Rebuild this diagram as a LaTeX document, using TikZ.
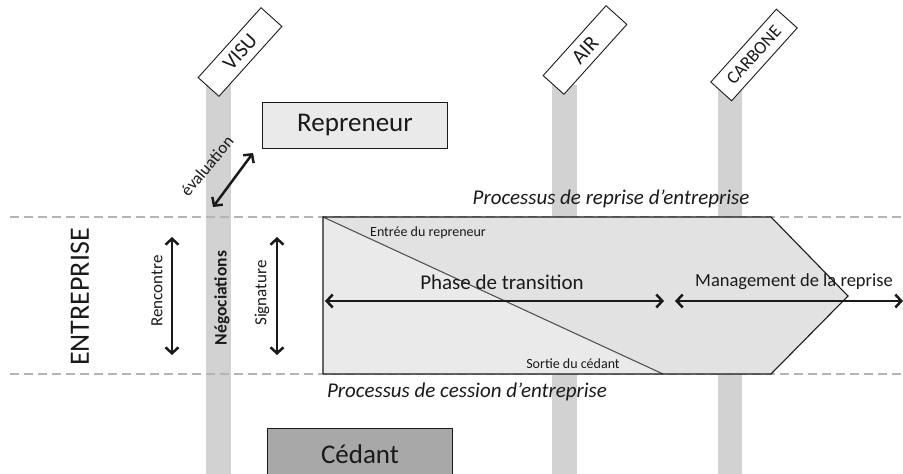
\documentclass[tikz,border=0pt]{standalone}
\usepackage{fontspec}
\setmainfont{Carlito}
\usepackage{xcolor}
\usetikzlibrary{calc,arrows.meta}
\definecolor{ink}{HTML}{1A1A1A}
\definecolor{bar}{HTML}{D2D2D2}
\definecolor{dash}{HTML}{B4B4B4}
\definecolor{dots}{HTML}{E2E2E2}
\definecolor{pale}{HTML}{EAEAEA}
\definecolor{dark}{HTML}{A8A8A8}
\tikzset{
  fs/.style={font=\fontsize{#1}{#1}\selectfont},
  pillar/.style={fill=bar, draw=none},
  tag/.style={draw=ink, line width=0.9pt, fill=white, rotate=48, minimum width=94pt, minimum height=28pt, inner sep=0pt, text=ink},
  border/.style={draw=dash, line width=2.6pt, dash pattern=on 9pt off 5pt},
  dbl/.style={{Straight Barb[length=6pt,width=13pt]}-{Straight Barb[length=6pt,width=13pt]}, line width=2.5pt, draw=ink},
  actor/.style={draw=ink, line width=0.9pt, minimum width=185pt, minimum height=46pt, inner sep=0pt, text=ink},
  every node/.style={text=ink}
}
\begin{document}
\begin{tikzpicture}[x=1pt,y=-1pt]
  \clip (0,0) rectangle (903,474);
  \fill[white] (0,0) rectangle (903,474);

  % colonnes
  \fill[pillar] (206,80) rectangle (231,474);
  \fill[pillar] (552,85) rectangle (577,474);
  \fill[pillar] (718,90) rectangle (742,474);
  \node[tag, fs=21] (visu) at (240,52) {VISU};
  \node[tag, fs=21] (air) at (585,50) {AIR};
  \node[tag, fs=18, minimum width=98pt] (carbone) at (754,55) {CARBONE};

  % limites de l'entreprise
  \draw[border] (10,217) -- (903,217);
  \draw[border] (10,374) -- (903,374);

  % processus
  \coordinate (A) at (323,217);
  \coordinate (B) at (771,217);
  \coordinate (T) at (848,296);
  \coordinate (C) at (771,374);
  \coordinate (D) at (323,374);
  \coordinate (E) at (663,374);
  \fill[dots] (A)--(B)--(T)--(C)--(D)--cycle;
  \fill[pale] (A)--(E)--(D)--cycle;
  \draw[draw=ink!75, line width=1.1pt] (A)--(E);
  \draw[draw=ink, line width=1.1pt, line join=miter] (D)--(A)--(B)--(T)--(C)--(D);

  \node[fs=21] (reprise) at (611,199) {\itshape Processus de reprise d’entreprise};
  \node[fs=21] (cession) at (467,392) {\itshape Processus de cession d’entreprise};
  \node[fs=14] (entree) at (428,233) {Entrée du repreneur};
  \node[fs=14] (sortie) at (573,364) {Sortie du cédant};

  \coordinate (p1) at (325,301);
  \coordinate (p2) at (664,301);
  \coordinate (m1) at (675,301);
  \coordinate (m2) at (903,301);
  \draw[dbl] (p1) -- (p2);
  \draw[dbl] (m1) -- (m2);
  \node[fs=21] (phase) at (502,282) {Phase de transition};
  \node[fs=18.5] (mgt) at (794,282) {Management de la reprise};

  % acteurs
  \node[actor, fill=pale, fs=27] (repreneur) at (355,125) {Repreneur};
  \node[actor, fill=dark, fs=27, minimum height=52pt] (cedant) at (360,454) {Cédant};

  % etapes
  \node[fs=28, rotate=90] (entreprise) at (80,297) {ENTREPRISE};
  \coordinate (r1) at (172,237);
  \coordinate (r2) at (172,355);
  \coordinate (s1) at (277,237);
  \coordinate (s2) at (277,355);
  \draw[dbl] (r1) -- (r2);
  \draw[dbl] (s1) -- (s2);
  \node[fs=17, rotate=90] (rencontre) at (157,291) {Rencontre};
  \node[fs=17.5, rotate=90] (nego) at (222,298) {\bfseries Négociations};
  \node[fs=17, rotate=90] (signature) at (262,293) {Signature};

  \coordinate (e1) at (213,207);
  \coordinate (e2) at (253,153);
  \draw[dbl] (e1) -- (e2);
  \node[fs=17, rotate=50] (eval) at (207,166) {évaluation};
\end{tikzpicture}
\end{document}
